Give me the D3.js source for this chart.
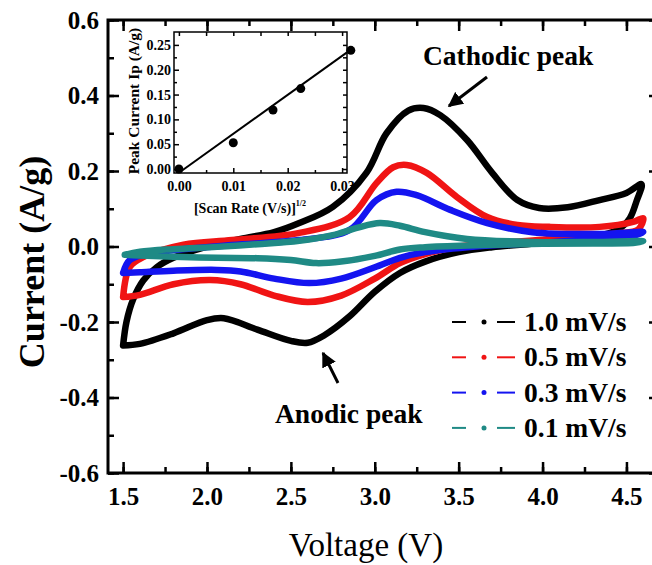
<!DOCTYPE html>
<html>
<head>
<meta charset="utf-8">
<script src="https://cdn.jsdelivr.net/npm/d3@7"></script>
<style>
  body { margin: 0; background: #fff; }
</style>
</head>
<body>
<svg id="chart" width="652" height="565"></svg>
<script>
// CV loops, [voltage, current]
// upper = forward sweep (left -> right), lower = reverse sweep (right -> left)
const blackUpper = [[1.5,-0.262],[1.52,-0.2],[1.56,-0.14],[1.62,-0.09],[1.7,-0.055],[1.8,-0.03],[2.0,0.0],[2.2,0.02],[2.4,0.038],[2.55,0.062],[2.75,0.105],[2.95,0.195],[3.07,0.3],[3.2,0.36],[3.29,0.367],[3.39,0.348],[3.55,0.282],[3.7,0.195],[3.85,0.123],[3.98,0.102],[4.15,0.104],[4.34,0.123],[4.5,0.142],[4.59,0.165]];
const blackLower = [[4.59,0.165],[4.56,0.12],[4.52,0.075],[4.45,0.045],[4.3,0.025],[4.0,0.01],[3.7,-0.002],[3.5,-0.015],[3.3,-0.04],[3.15,-0.07],[3.0,-0.12],[2.85,-0.185],[2.7,-0.235],[2.6,-0.255],[2.5,-0.25],[2.3,-0.22],[2.1,-0.19],[2.0,-0.195],[1.8,-0.23],[1.6,-0.258],[1.5,-0.262]];
const redUpper = [[1.5,-0.134],[1.54,-0.054],[1.62,-0.028],[1.86,0.005],[2.15,0.017],[2.55,0.036],[2.85,0.078],[3.01,0.168],[3.11,0.21],[3.19,0.216],[3.31,0.195],[3.49,0.131],[3.67,0.078],[3.85,0.057],[4.04,0.052],[4.34,0.052],[4.54,0.065],[4.6,0.075]];
const redLower = [[4.6,0.075],[4.57,0.045],[4.45,0.035],[4.3,0.028],[4.0,0.018],[3.5,0.0],[3.3,-0.02],[3.15,-0.044],[3.0,-0.085],[2.8,-0.13],[2.6,-0.147],[2.4,-0.13],[2.2,-0.1],[2.02,-0.089],[1.8,-0.1],[1.6,-0.128],[1.5,-0.134]];
const blueUpper = [[1.5,-0.07],[1.54,-0.036],[1.66,-0.018],[2.15,0.004],[2.55,0.017],[2.85,0.044],[3.01,0.123],[3.13,0.145],[3.25,0.136],[3.45,0.097],[3.67,0.062],[3.94,0.038],[4.34,0.033],[4.6,0.038]];
const blueLower = [[4.6,0.038],[4.5,0.025],[4.34,0.02],[4.0,0.01],[3.6,0.0],[3.3,-0.015],[3.15,-0.03],[3.0,-0.055],[2.8,-0.085],[2.61,-0.097],[2.4,-0.085],[2.2,-0.066],[2.06,-0.062],[1.8,-0.064],[1.6,-0.068],[1.5,-0.07]];
const tealUpper = [[1.51,-0.022],[1.6,-0.014],[1.8,-0.007],[2.06,-0.001],[2.3,0.006],[2.55,0.015],[2.75,0.03],[2.9,0.05],[3.03,0.062],[3.15,0.055],[3.3,0.038],[3.55,0.02],[3.94,0.012],[4.3,0.012],[4.6,0.014]];
const tealLower = [[4.6,0.014],[4.55,0.01],[4.3,0.008],[4.0,0.007],[3.6,0.003],[3.3,-0.002],[3.15,-0.008],[3.0,-0.025],[2.8,-0.04],[2.65,-0.044],[2.5,-0.036],[2.3,-0.031],[2.06,-0.03],[1.8,-0.027],[1.6,-0.024],[1.51,-0.022]];

const seriesNames = ["1.0 mV/s", "0.5 mV/s", "0.3 mV/s", "0.1 mV/s"];
const seriesColors = ["#000000", "#f01414", "#1414f0", "#1f8a85"];
const seriesLoops = [
  blackUpper.concat(blackLower.slice(1)),
  redUpper.concat(redLower.slice(1)),
  blueUpper.concat(blueLower.slice(1)),
  tealUpper.concat(tealLower.slice(1))
];

const xTicks = [1.5, 2.0, 2.5, 3.0, 3.5, 4.0, 4.5];
const yTicks = [-0.6, -0.4, -0.2, 0.0, 0.2, 0.4, 0.6];

// inset: peak current vs sqrt(scan rate)
const insetRootRate = [0.0, 0.01, 0.0173, 0.0224, 0.0316];
const insetPeak = [0.0, 0.053, 0.119, 0.162, 0.239];
const insetFit = [[0.0002, -0.006], [0.0309, 0.235]];
const insetXTicks = [0.0, 0.01, 0.02, 0.03];
const insetYTicks = [0.0, 0.05, 0.1, 0.15, 0.2, 0.25];

const FONT = "Liberation Serif";
const svg = d3.select("#chart");
svg.append("rect").attr("width", 652).attr("height", 565).attr("fill", "#fff");

let x = d3.scaleLinear().domain([1.41, 4.7]).range([108, 660]);
let y = d3.scaleLinear().domain([-0.6, 0.6]).range([473, 20]);

// plain hyphen minus like the original
let fmt1 = d => d3.format(".1f")(d).replace("\u2212", "-");
let fmt2 = d => d3.format(".2f")(d).replace("\u2212", "-");

let line = d3.line()
  .x(d => x(d[0]))
  .y(d => y(d[1]))
  .curve(d3.curveCatmullRom.alpha(0.5));

// curves
svg.append("g").selectAll("path")
  .data(seriesLoops)
  .enter()
  .append("path")
  .attr("d", line)
  .attr("fill", "none")
  .attr("stroke", (d, i) => seriesColors[i])
  .attr("stroke-width", 6.5)
  .attr("stroke-linejoin", "round")
  .attr("stroke-linecap", "round");

// main axes, ticks pointing inward
function styleAxis(g) {
  g.select(".domain").remove();
  g.selectAll(".tick line").attr("stroke", "#000").attr("stroke-width", 2.5);
  g.selectAll("text")
    .attr("font-weight", "bold")
    .attr("font-size", 25)
    .attr("fill", "#000");
}
const xMinor = d3.range(1.5, 4.71, 0.25);
const yMinor = d3.range(-0.6, 0.61, 0.1);

svg.append("g").attr("transform", "translate(0,473)")
  .call(d3.axisBottom(x).tickValues(xTicks).tickSize(-11).tickPadding(14).tickFormat(fmt1))
  .call(styleAxis);
svg.append("g").attr("transform", "translate(0,473)")
  .call(d3.axisBottom(x).tickValues(xMinor).tickSize(-6).tickFormat(""))
  .call(styleAxis);
svg.append("g").attr("transform", "translate(0,20)")
  .call(d3.axisTop(x).tickValues(xTicks).tickSize(-11).tickFormat(""))
  .call(styleAxis);
svg.append("g").attr("transform", "translate(0,20)")
  .call(d3.axisTop(x).tickValues(xMinor).tickSize(-6).tickFormat(""))
  .call(styleAxis);
svg.append("g").attr("transform", "translate(108,0)")
  .call(d3.axisLeft(y).tickValues(yTicks).tickSize(-11).tickPadding(9).tickFormat(fmt1))
  .call(styleAxis);
svg.append("g").attr("transform", "translate(108,0)")
  .call(d3.axisLeft(y).tickValues(yMinor).tickSize(-6).tickFormat(""))
  .call(styleAxis);
svg.append("g").attr("transform", "translate(660,0)")
  .call(d3.axisRight(y).tickValues(yTicks).tickSize(-11).tickFormat(""))
  .call(styleAxis);
svg.append("g").attr("transform", "translate(660,0)")
  .call(d3.axisRight(y).tickValues(yMinor).tickSize(-6).tickFormat(""))
  .call(styleAxis);

svg.append("rect")
  .attr("x", 108).attr("y", 20).attr("width", 552).attr("height", 453)
  .attr("fill", "none").attr("stroke", "#000").attr("stroke-width", 3);

// axis titles
svg.append("text")
  .attr("transform", "translate(44,262) rotate(-90)")
  .attr("text-anchor", "middle")
  .attr("font-weight", "bold")
  .attr("font-size", 36)
  .text("Current (A/g)");
svg.append("text")
  .attr("x", 366).attr("y", 556)
  .attr("text-anchor", "middle")
  .attr("font-size", 33)
  .text("Voltage (V)");

// annotations
let defs = svg.append("defs");
defs.append("marker")
  .attr("id", "head")
  .attr("viewBox", "0 0 10 10")
  .attr("refX", 9).attr("refY", 5)
  .attr("markerWidth", 5).attr("markerHeight", 5)
  .attr("orient", "auto")
  .append("path").attr("d", "M0,0 L10,5 L0,10 Z").attr("fill", "#000");

svg.append("text").attr("x", 423).attr("y", 65)
  .attr("font-weight", "bold").attr("font-size", 27.5).text("Cathodic peak");
svg.append("line")
  .attr("x1", 487).attr("y1", 77).attr("x2", 449).attr("y2", 106)
  .attr("stroke", "#000").attr("stroke-width", 3).attr("marker-end", "url(#head)");
svg.append("text").attr("x", 275).attr("y", 423)
  .attr("font-weight", "bold").attr("font-size", 27.5).text("Anodic peak");
svg.append("line")
  .attr("x1", 338).attr("y1", 383).attr("x2", 323).attr("y2", 353)
  .attr("stroke", "#000").attr("stroke-width", 3).attr("marker-end", "url(#head)");

// legend
let legend = svg.append("g").selectAll("g")
  .data(seriesNames)
  .enter()
  .append("g")
  .attr("transform", (d, i) => "translate(0," + (322 + i * 35.3) + ")");
legend.append("line").attr("x1", 452).attr("x2", 466).attr("y1", 0).attr("y2", 0)
  .attr("stroke", (d, i) => seriesColors[i]).attr("stroke-width", 2);
legend.append("line").attr("x1", 497).attr("x2", 515).attr("y1", 0).attr("y2", 0)
  .attr("stroke", (d, i) => seriesColors[i]).attr("stroke-width", 2);
legend.append("circle").attr("cx", 484).attr("cy", 0).attr("r", 2.5)
  .attr("fill", (d, i) => seriesColors[i]);
legend.append("text").attr("x", 524).attr("y", 9)
  .attr("font-weight", "bold").attr("font-size", 27.5)
  .text(d => d);

// inset
let ix = d3.scaleLinear().domain([-0.0009, 0.0309]).range([174, 347]);
let iy = d3.scaleLinear().domain([-0.008, 0.276]).range([173, 32]);
let inset = svg.append("g");
inset.append("rect").attr("x", 174).attr("y", 32).attr("width", 173).attr("height", 141)
  .attr("fill", "#fff");

function styleInset(g) {
  g.select(".domain").remove();
  g.selectAll(".tick line").attr("stroke", "#000").attr("stroke-width", 1.5);
  g.selectAll("text")
    .attr("font-weight", "bold")
    .attr("font-size", 14)
    .attr("fill", "#000");
}
const ixMinor = [0.005, 0.015, 0.025];
const iyMinor = d3.range(0.025, 0.27, 0.05);
inset.append("g").attr("transform", "translate(0,173)")
  .call(d3.axisBottom(ix).tickValues(insetXTicks).tickSize(-5).tickPadding(8).tickFormat(fmt2))
  .call(styleInset);
inset.append("g").attr("transform", "translate(0,173)")
  .call(d3.axisBottom(ix).tickValues(ixMinor).tickSize(-3).tickFormat(""))
  .call(styleInset);
inset.append("g").attr("transform", "translate(0,32)")
  .call(d3.axisTop(ix).tickValues(insetXTicks.concat(ixMinor)).tickSize(-4).tickFormat(""))
  .call(styleInset);
inset.append("g").attr("transform", "translate(174,0)")
  .call(d3.axisLeft(iy).tickValues(insetYTicks).tickSize(-5).tickPadding(3).tickFormat(fmt2))
  .call(styleInset);
inset.append("g").attr("transform", "translate(174,0)")
  .call(d3.axisLeft(iy).tickValues(iyMinor).tickSize(-3).tickFormat(""))
  .call(styleInset);
inset.append("g").attr("transform", "translate(347,0)")
  .call(d3.axisRight(iy).tickValues(insetYTicks.concat(iyMinor)).tickSize(-4).tickFormat(""))
  .call(styleInset);

inset.append("path")
  .datum(insetFit)
  .attr("d", d3.line().x(d => ix(d[0])).y(d => iy(d[1])))
  .attr("stroke", "#000").attr("stroke-width", 2).attr("fill", "none");
inset.selectAll("circle")
  .data(insetRootRate)
  .enter()
  .append("circle")
  .attr("cx", d => ix(d))
  .attr("cy", (d, i) => iy(insetPeak[i]))
  .attr("r", 4.5)
  .attr("fill", "#000");
inset.append("rect").attr("x", 174).attr("y", 32).attr("width", 173).attr("height", 141)
  .attr("fill", "none").attr("stroke", "#000").attr("stroke-width", 1.5);

inset.append("text")
  .attr("transform", "translate(139,101) rotate(-90)")
  .attr("text-anchor", "middle")
  .attr("font-weight", "bold").attr("font-size", 15.5)
  .text("Peak Current Ip (A/g)");
let xl = inset.append("text")
  .attr("x", 250).attr("y", 213)
  .attr("text-anchor", "middle")
  .attr("font-weight", "bold").attr("font-size", 14);
xl.append("tspan").text("[Scan Rate (V/s)]");
xl.append("tspan").attr("dy", -7).attr("font-size", 8).text("1/2");

// serif everywhere (the axis groups default to sans-serif)
svg.selectAll("g").attr("font-family", FONT);
svg.selectAll("text").attr("font-family", FONT);
</script>
</body>
</html>
